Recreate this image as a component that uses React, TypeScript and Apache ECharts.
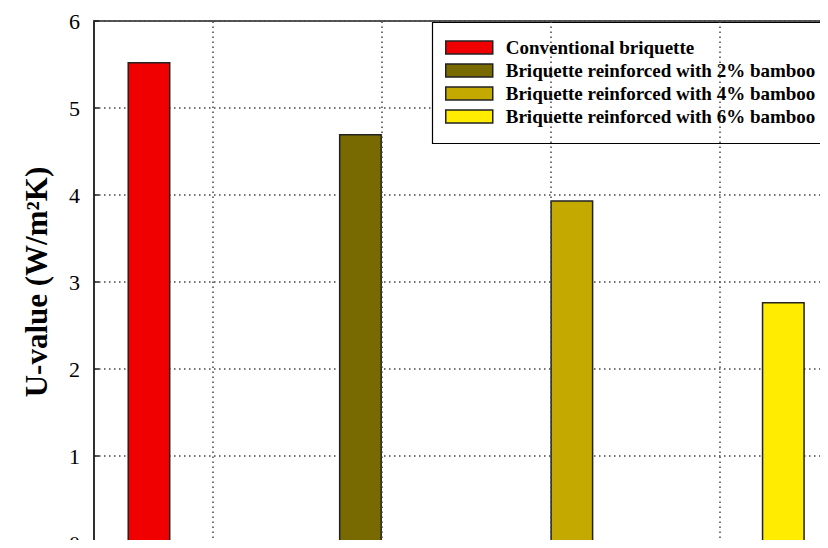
import React, { useEffect, useRef } from "react";
import * as echarts from "echarts";

const seriesNames = [
  "Conventional briquette",
  "Briquette reinforced with 2% bamboo",
  "Briquette reinforced with 4% bamboo",
  "Briquette reinforced with 6% bamboo",
];
const barPositions = [1, 2, 3, 4];
const uValues = [5.53, 4.7, 3.94, 2.77];
const barColors = ["#f00000", "#786a00", "#c4aa00", "#ffec00"];
const verticalGridPositions = [1.3, 2.1, 2.9, 3.7];
const yTicks = [0, 1, 2, 3, 4, 5, 6];

const SERIF = "'Liberation Serif', 'Times New Roman', serif";

export default function App() {
  const ref = useRef<HTMLDivElement>(null);
  useEffect(() => {
    if (!ref.current) return;
    const chart = echarts.init(ref.current, undefined, { renderer: "svg" });
    const dotted = { type: [1.5, 3.5] as any, color: "#444", width: 1.5 };
    const series: any[] = seriesNames.map((name, i) => ({
      name,
      type: "bar",
      barWidth: 43,
      barGap: "-100%",
      data: [[barPositions[i], uValues[i]]],
      itemStyle: { color: barColors[i], borderColor: "#222", borderWidth: 1.5 },
      ...(i === 0
        ? {
            markLine: {
              silent: true,
              symbol: ["none", "none"],
              label: { show: false },
              lineStyle: dotted,
              data: verticalGridPositions.map((x) => ({ xAxis: x })),
            },
          }
        : {}),
    }));
    chart.setOption({
      animation: false,
      backgroundColor: "#fff",
      grid: {
        left: 94,
        top: 21,
        right: -42,
        bottom: 5,
        show: true,
        borderColor: "#222",
        borderWidth: 1.5,
        containLabel: false,
        outerBoundsMode: "none",
      },
      graphic: [
        {
          type: "rect",
          z: 4,
          shape: { x: 432.5, y: 22.5, width: 420, height: 121 },
          style: { fill: "#fff", stroke: "#000", lineWidth: 1.2 },
        },
      ],
      legend: {
        orient: "vertical",
        left: 432,
        top: 22,
        padding: [16, 4, 16, 13],
        itemWidth: 47,
        itemHeight: 13,
        itemGap: 4,
        icon: "rect",
        z: 5,
        itemStyle: { borderColor: "#222", borderWidth: 1.5 },
        textStyle: {
          fontFamily: SERIF,
          fontWeight: "bold",
          fontSize: 19,
          lineHeight: 19,
          color: "#000",
          padding: [0, 0, 0, 8],
        },
        data: seriesNames,
      },
      xAxis: {
        type: "value",
        min: 0.74,
        max: 4.41,
        axisLine: { show: true, lineStyle: { color: "#222", width: 1.5 } },
        axisTick: { show: false },
        axisLabel: { show: false },
        splitLine: { show: false },
      },
      yAxis: {
        type: "value",
        min: yTicks[0],
        max: yTicks[yTicks.length - 1],
        interval: 1,
        name: "U-value (W/m²K)",
        nameLocation: "middle",
        nameGap: 42,
        nameTextStyle: {
          fontFamily: SERIF,
          fontWeight: "bold",
          fontSize: 31,
          color: "#000",
        },
        axisLine: { show: true, lineStyle: { color: "#222", width: 1.5 } },
        axisTick: { show: true, inside: true, length: 5, lineStyle: { color: "#222", width: 1.5 } },
        axisLabel: { fontFamily: SERIF, fontSize: 22, color: "#000", margin: 14 },
        splitLine: { show: true, lineStyle: dotted },
      },
      series,
    });
    return () => chart.dispose();
  }, []);
  return <div ref={ref} style={{ width: 828, height: 548, margin: -8 }} />;
}
